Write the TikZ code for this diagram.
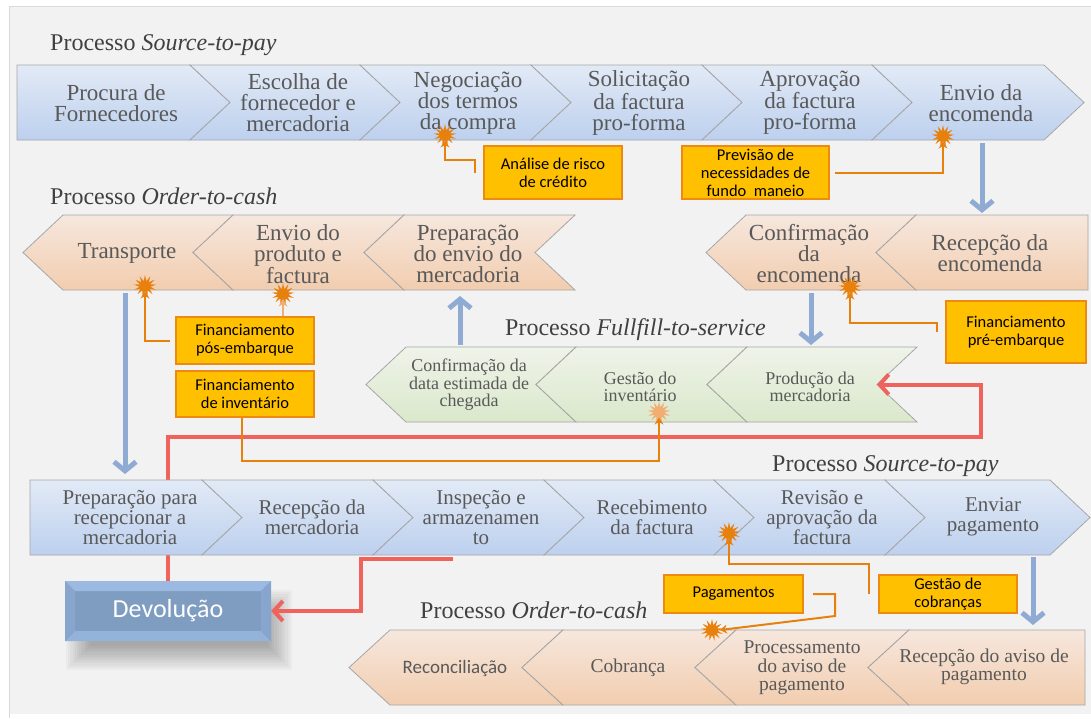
\documentclass[tikz,border=0pt]{standalone}
\usepackage{fontspec}
\setmainfont{Liberation Serif}
\newfontfamily\boxfont{Carlito}
\usetikzlibrary{arrows.meta,shapes.symbols}

\definecolor{panel}{HTML}{F2F2F2}
\definecolor{paneledge}{HTML}{DADADA}
\definecolor{steptext}{HTML}{595959}
\definecolor{titletext}{HTML}{404040}
\definecolor{blueTop}{HTML}{E2EAF6}
\definecolor{blueBot}{HTML}{BDD0EE}
\definecolor{peachTop}{HTML}{F6E7DD}
\definecolor{peachBot}{HTML}{F2CDAF}
\definecolor{greenTop}{HTML}{EFF3E9}
\definecolor{greenBot}{HTML}{DAE8CB}
\definecolor{segline}{HTML}{A6A6A6}
\definecolor{flowblue}{HTML}{8FABD4}
\definecolor{returnred}{HTML}{F0625C}
\definecolor{riskorange}{HTML}{E8800E}
\definecolor{lightorange}{HTML}{F2AE72}
\definecolor{labelfill}{HTML}{FFC000}
\definecolor{labeledge}{HTML}{EE8A12}
\definecolor{devface}{HTML}{7F9CC1}
\definecolor{devtop}{HTML}{9CBAE1}
\definecolor{devbottom}{HTML}{94B3DB}
\definecolor{devside}{HTML}{88A6CD}

% one segment of a process band: style, top-left x, top-right x, top y,
% offset of the left middle point, offset of the right middle point, name
\newcommand\chevseg[7]{%
  \path[#1] (#2,#4) -- (#3,#4) -- ({#3+#6},{#4+37.5}) -- (#3,{#4+75})
    -- (#2,{#4+75}) -- ({#2+#5},{#4+37.5}) -- cycle;
  \coordinate (#7-l) at ({#2+#5},{#4+37.5});
  \coordinate (#7-r) at ({#3+#6},{#4+37.5});
}

\tikzset{
  bluerow/.style={top color=blueTop, bottom color=blueBot, draw=segline, line width=0.8pt},
  peachrow/.style={top color=peachTop, bottom color=peachBot, draw=segline, line width=0.8pt},
  greenrow/.style={top color=greenTop, bottom color=greenBot, draw=segline, line width=0.8pt},
  steplabel/.style={text=steptext, align=center, inner sep=0pt, font=\fontsize{23}{21}\selectfont},
  smallstep/.style={steplabel, font=\fontsize{18}{17.5}\selectfont},
  midstep/.style={steplabel, font=\fontsize{21}{20}\selectfont},
  lowstep/.style={steplabel, font=\fontsize{19.5}{18.5}\selectfont},
  proctitle/.style={anchor=west, inner sep=0pt, text=titletext, font=\fontsize{24}{26}\selectfont},
  labelbox/.style={fill=labelfill, draw=labeledge, line width=2pt, align=center, inner sep=0pt,
    font=\boxfont\fontsize{16.5}{18}\selectfont},
  burst/.style={starburst, starburst points=13, starburst point height=6pt, random starburst=0,
    fill=riskorange, draw=none, minimum width=23pt, minimum height=22pt, inner sep=0pt},
  orangelink/.style={draw=riskorange, line width=2pt, -{Stealth[length=7pt,width=9pt]}},
  bluelink/.style={draw=flowblue, line width=5pt, -{Straight Barb[length=9pt,width=22pt]}},
  redlink/.style={draw=returnred, line width=4pt, -{Straight Barb[length=9pt,width=20pt]}},
}

\begin{document}
\begin{tikzpicture}[x=1pt,y=-1pt]
\useasboundingbox (0,0) rectangle (1091,718);
\fill[white] (0,0) rectangle (1091,718);
\fill[panel] (9,6) rectangle (1091,714);
\draw[paneledge, line width=0.8pt] (9,718) -- (9,6) -- (1091,6);

% ---- soft shadow and bevelled return box ----
\foreach \k in {0,...,11}{
  \fill[black, opacity=0.026] ({66+2.2*\k},{590+2.2*\k}) rectangle ({292-2.2*\k},{670-2.2*\k});
}
\node[fill=devface, minimum width=206pt, minimum height=60pt, inner sep=0pt] (devolucao) at (168,611) {};
\fill[devtop] (65,581) -- (271,581) -- (261,591) -- (75,591) -- cycle;
\fill[devbottom] (65,641) -- (271,641) -- (261,631) -- (75,631) -- cycle;
\fill[devside] (65,581) -- (75,591) -- (75,631) -- (65,641) -- cycle;
\fill[devside] (271,581) -- (261,591) -- (261,631) -- (271,641) -- cycle;
\node[text=white, font=\boxfont\fontsize{26}{28}\selectfont, inner sep=0pt] (devtext) at (devolucao) {Devolução};

\coordinate (loopcorner) at (981,437);
\coordinate (inspectout) at (453,559);

% ---- band 1: Source-to-pay ----
\chevseg{bluerow}{17}{190}{65}{0}{40}{p1a}
\chevseg{bluerow}{190}{360}{65}{40}{40}{p1b}
\chevseg{bluerow}{360}{531}{65}{40}{40}{p1c}
\chevseg{bluerow}{531}{702}{65}{40}{40}{p1d}
\chevseg{bluerow}{702}{872}{65}{40}{40}{p1e}
\chevseg{bluerow}{872}{1044}{65}{40}{40}{p1f}
\node[steplabel] (procura) at (116,103) {Procura de\\Fornecedores};
\node[steplabel] (escolha) at (298,103) {Escolha de\\fornecedor e\\mercadoria};
\node[steplabel] (negociacao) at (468,103) {Negociação\\dos termos\\da compra};
\node[steplabel] (solicitacao) at (639,103) {Solicitação\\da factura\\pro-forma};
\node[steplabel] (aprovacao) at (810,103) {Aprovação\\da factura\\pro-forma};
\node[steplabel] (envioenc) at (981,103) {Envio da\\encomenda};

% ---- band 2: Order-to-cash ----
\chevseg{peachrow}{63}{233}{215}{-40}{-40}{o1a}
\chevseg{peachrow}{233}{404}{215}{-40}{-40}{o1b}
\chevseg{peachrow}{404}{575}{215}{-40}{-40}{o1c}
\chevseg{peachrow}{746}{916}{215}{-40}{-40}{o2a}
\chevseg{peachrow}{916}{1088}{215}{-40}{0}{o2b}
\node[steplabel] (transporte) at (127,253) {Transporte};
\node[steplabel] (envioprod) at (298,254) {Envio do\\produto e\\factura};
\node[steplabel] (prepenvio) at (468,254) {Preparação\\do envio do\\mercadoria};
\node[steplabel] (confenc) at (809,254) {Confirmação\\da\\encomenda};
\node[steplabel] (recepenc) at (990,253) {Recepção da\\encomenda};

% ---- band 3: Fullfill-to-service ----
\chevseg{greenrow}{406}{576}{347}{-40}{-40}{g1}
\chevseg{greenrow}{576}{747}{347}{-40}{-40}{g2}
\chevseg{greenrow}{747}{917}{347}{-40}{-40}{g3}
\node[smallstep] (confdata) at (469,385) {Confirmação da\\data estimada de\\chegada};
\node[smallstep] (gestinv) at (640,387) {Gestão do\\inventário};
\node[smallstep] (producao) at (810,387) {Produção da\\mercadoria};

% return loop to production (passes under band 4)
\draw[redlink] (devolucao.north) |- (loopcorner) |- (g3-r);

% ---- band 4: Source-to-pay ----
\chevseg{bluerow}{30}{202}{480}{0}{40}{p2a}
\chevseg{bluerow}{202}{373}{480}{40}{40}{p2b}
\chevseg{bluerow}{373}{544}{480}{40}{40}{p2c}
\chevseg{bluerow}{544}{714}{480}{40}{40}{p2d}
\chevseg{bluerow}{714}{885}{480}{40}{40}{p2e}
\chevseg{bluerow}{885}{1050}{480}{40}{40}{p2f}
\node[midstep] (preprec) at (130,518) {Preparação para\\recepcionar a\\mercadoria};
\node[midstep] (recepmerc) at (312,517) {Recepção da\\mercadoria};
\node[midstep] (inspecao) at (481,518) {Inspeção e\\armazenamen\\to};
\node[midstep] (recebfact) at (652,517) {Recebimento\\da factura};
\node[midstep] (revisao) at (822,518) {Revisão e\\aprovação da\\factura};
\node[midstep] (enviarpag) at (993,517) {Enviar\\pagamento};

% ---- band 5: Order-to-cash ----
\chevseg{peachrow}{390}{563}{630}{-41}{-41}{o3a}
\chevseg{peachrow}{563}{736}{630}{-41}{-41}{o3b}
\chevseg{peachrow}{736}{909}{630}{-41}{-41}{o3c}
\chevseg{peachrow}{909}{1085}{630}{-41}{0}{o3d}
\node[steplabel, font=\boxfont\fontsize{19}{20}\selectfont] (reconc) at (455,668) {Reconciliação};
\node[lowstep] (cobranca) at (628,668) {Cobrança};
\node[lowstep] (procaviso) at (802,668) {Processamento\\do aviso de\\pagamento};
\node[lowstep] (recepaviso) at (984,667) {Recepção do aviso de\\pagamento};

% second return flow
\draw[redlink] (inspectout) -| ([xshift=90pt]devolucao.east) -- (devolucao.east);

% ---- process titles ----
\node[proctitle] (t1) at (50,45) {Processo \textit{Source-to-pay}};
\node[proctitle] (t2) at (50,196) {Processo \textit{Order-to-cash}};
\node[proctitle] (t3) at (505,330) {Processo \textit{Fullfill-to-service}};
\node[proctitle] (t4) at (772,466) {Processo \textit{Source-to-pay}};
\node[proctitle] (t5) at (420,610) {Processo \textit{Order-to-cash}};

% ---- hand-over arrows between bands ----
\coordinate (envioenc-out) at (982,143);
\coordinate (recepenc-in) at (982,213);
\coordinate (transporte-out) at (125,293);
\coordinate (preprec-in) at (125,474);
\coordinate (confdata-out) at (460,345);
\coordinate (prepenvio-in) at (460,296);
\coordinate (confenc-out) at (811,293);
\coordinate (producao-in) at (811,345);
\coordinate (enviarpag-out) at (1033,557);
\coordinate (recepaviso-in) at (1033,625);
\draw[bluelink] (envioenc-out) -- (recepenc-in);
\draw[bluelink] (transporte-out) -- (preprec-in);
\draw[bluelink] (confdata-out) -- (prepenvio-in);
\draw[bluelink] (confenc-out) -- (producao-in);
\draw[bluelink] (enviarpag-out) -- (recepaviso-in);

% ---- financing labels ----
\node[labelbox, minimum width=138pt, minimum height=53pt] (analise) at (553,172.5) {Análise de risco\\de crédito};
\node[labelbox, minimum width=147pt, minimum height=53pt] (previsao) at (755.5,172.5) {Previsão de\\necessidades de\\fundo\ \ maneio};
\node[labelbox, minimum width=138pt, minimum height=47pt] (posemb) at (245,340.5) {Financiamento\\pós-embarque};
\node[labelbox, minimum width=138pt, minimum height=46pt] (invent) at (245,394) {Financiamento\\de inventário};
\node[labelbox, minimum width=140pt, minimum height=62pt] (preemb) at (1016,332) {Financiamento\\pré-embarque};
\node[labelbox, minimum width=139pt, minimum height=38pt] (pagamentos) at (733.5,594) {Pagamentos};
\node[labelbox, minimum width=138pt, minimum height=38pt] (gestao) at (948,594) {Gestão de\\cobranças};

% ---- risk points ----
\node[burst] (s1) at (445,135) {};
\node[burst] (s2) at (943,136) {};
\node[burst] (s3) at (145,286) {};
\node[burst] (s4) at (283,294) {};
\node[burst] (s5) at (850,287) {};
\node[burst, fill=lightorange] (s6) at (659,412) {};
\node[burst] (s7) at (729,533) {};
\node[burst] (s8) at (712,630) {};

% ---- links from labels to risk points ----
\draw[orangelink] ([xshift=-8pt]analise.west) -- ++(0,-13) -| (s1.south);
\draw[orangelink] ([xshift=5pt]previsao.east) -| (s2.south);
\draw[orangelink] ([xshift=-5pt]posemb.west) -| (s3.south);
\draw[orangelink, draw=lightorange] (s4 |- posemb.north) -- (s4.south);
\draw[orangelink] ([xshift=-8pt]preemb.west) -- ++(0,-9) -| (s5.south);
\draw[orangelink] ([xshift=-3pt]invent.south) -- ++(0,43) -| (s6.south);
\draw[orangelink] ([xshift=-9pt]gestao.west) -- ++(0,-30) -| (s7.south);
\draw[orangelink] ([xshift=9pt]pagamentos.east) -- ++(22,0) -- ++(0,22) -- (s8.east);
\end{tikzpicture}
\end{document}
